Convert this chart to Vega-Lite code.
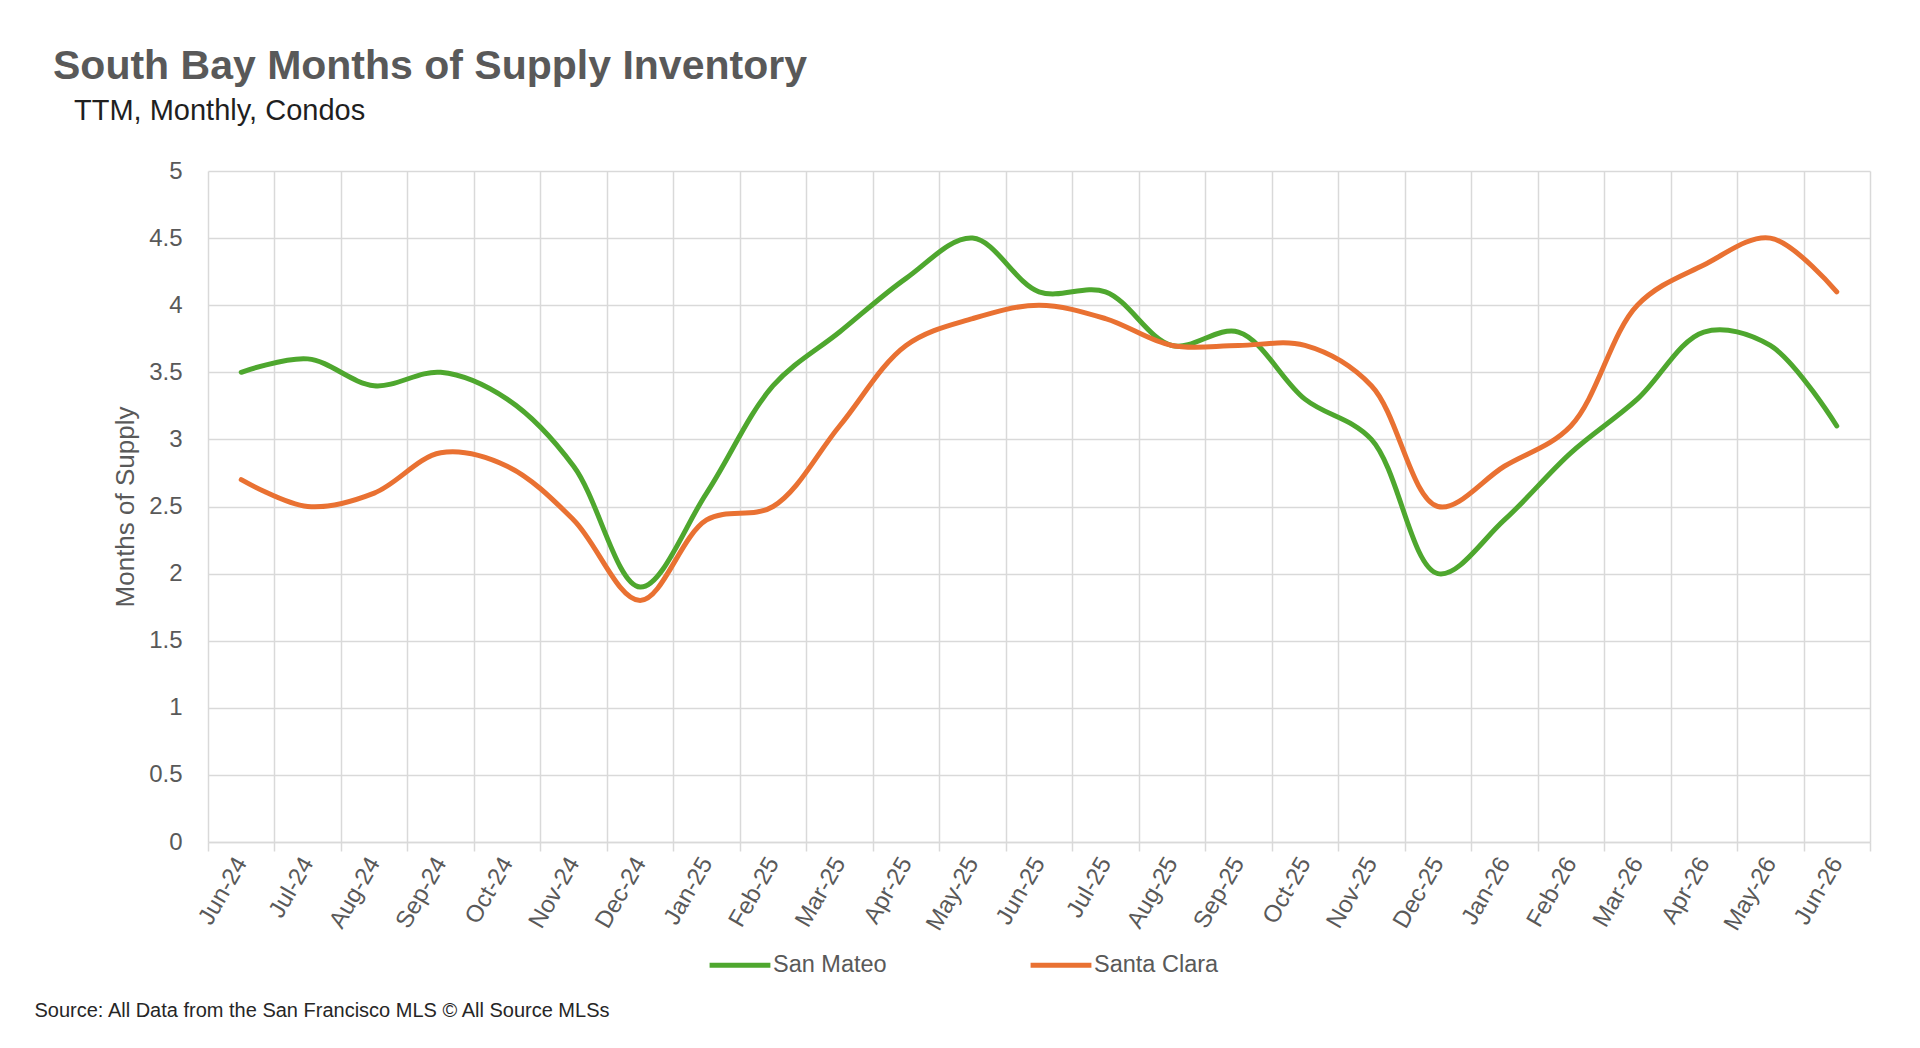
{
  "$schema": "https://vega.github.io/schema/vega-lite/v6.json",
  "description": "South Bay Months of Supply Inventory, TTM, Monthly, Condos",
  "width": 1662,
  "height": 671,
  "autosize": "none",
  "padding": {"left": 208, "top": 171, "right": 50, "bottom": 206},
  "background": "white",
  "title": {
    "text": "South Bay Months of Supply Inventory",
    "subtitle": "\u2800TTM, Monthly, Condos",
    "anchor": "start",
    "frame": "group",
    "dx": -155,
    "offset": 32,
    "font": "Liberation Sans",
    "fontSize": 41,
    "fontWeight": "bold",
    "color": "#595959",
    "subtitleFont": "Liberation Sans",
    "subtitleFontSize": 29,
    "subtitleColor": "#1F1F1F",
    "subtitlePadding": 9
  },
  "config": {
    "font": "Liberation Sans",
    "view": {"stroke": null},
    "axis": {
      "gridColor": "#D9D9D9",
      "gridWidth": 1.5,
      "labelColor": "#595959",
      "titleColor": "#595959",
      "labelFont": "Liberation Sans",
      "titleFont": "Liberation Sans"
    }
  },
  "data": {
    "values": [
      {"month": "Jun-24", "county": "San Mateo", "value": 3.5},
      {"month": "Jul-24", "county": "San Mateo", "value": 3.6},
      {"month": "Aug-24", "county": "San Mateo", "value": 3.4},
      {"month": "Sep-24", "county": "San Mateo", "value": 3.5},
      {"month": "Oct-24", "county": "San Mateo", "value": 3.3},
      {"month": "Nov-24", "county": "San Mateo", "value": 2.8},
      {"month": "Dec-24", "county": "San Mateo", "value": 1.9},
      {"month": "Jan-25", "county": "San Mateo", "value": 2.6},
      {"month": "Feb-25", "county": "San Mateo", "value": 3.4},
      {"month": "Mar-25", "county": "San Mateo", "value": 3.8},
      {"month": "Apr-25", "county": "San Mateo", "value": 4.2},
      {"month": "May-25", "county": "San Mateo", "value": 4.5},
      {"month": "Jun-25", "county": "San Mateo", "value": 4.1},
      {"month": "Jul-25", "county": "San Mateo", "value": 4.1},
      {"month": "Aug-25", "county": "San Mateo", "value": 3.7},
      {"month": "Sep-25", "county": "San Mateo", "value": 3.8},
      {"month": "Oct-25", "county": "San Mateo", "value": 3.3},
      {"month": "Nov-25", "county": "San Mateo", "value": 3.0},
      {"month": "Dec-25", "county": "San Mateo", "value": 2.0},
      {"month": "Jan-26", "county": "San Mateo", "value": 2.4},
      {"month": "Feb-26", "county": "San Mateo", "value": 2.9},
      {"month": "Mar-26", "county": "San Mateo", "value": 3.3},
      {"month": "Apr-26", "county": "San Mateo", "value": 3.8},
      {"month": "May-26", "county": "San Mateo", "value": 3.7},
      {"month": "Jun-26", "county": "San Mateo", "value": 3.1},
      {"month": "Jun-24", "county": "Santa Clara", "value": 2.7},
      {"month": "Jul-24", "county": "Santa Clara", "value": 2.5},
      {"month": "Aug-24", "county": "Santa Clara", "value": 2.6},
      {"month": "Sep-24", "county": "Santa Clara", "value": 2.9},
      {"month": "Oct-24", "county": "Santa Clara", "value": 2.8},
      {"month": "Nov-24", "county": "Santa Clara", "value": 2.4},
      {"month": "Dec-24", "county": "Santa Clara", "value": 1.8},
      {"month": "Jan-25", "county": "Santa Clara", "value": 2.4},
      {"month": "Feb-25", "county": "Santa Clara", "value": 2.5},
      {"month": "Mar-25", "county": "Santa Clara", "value": 3.1},
      {"month": "Apr-25", "county": "Santa Clara", "value": 3.7},
      {"month": "May-25", "county": "Santa Clara", "value": 3.9},
      {"month": "Jun-25", "county": "Santa Clara", "value": 4.0},
      {"month": "Jul-25", "county": "Santa Clara", "value": 3.9},
      {"month": "Aug-25", "county": "Santa Clara", "value": 3.7},
      {"month": "Sep-25", "county": "Santa Clara", "value": 3.7},
      {"month": "Oct-25", "county": "Santa Clara", "value": 3.7},
      {"month": "Nov-25", "county": "Santa Clara", "value": 3.4},
      {"month": "Dec-25", "county": "Santa Clara", "value": 2.5},
      {"month": "Jan-26", "county": "Santa Clara", "value": 2.8},
      {"month": "Feb-26", "county": "Santa Clara", "value": 3.1},
      {"month": "Mar-26", "county": "Santa Clara", "value": 4.0},
      {"month": "Apr-26", "county": "Santa Clara", "value": 4.3},
      {"month": "May-26", "county": "Santa Clara", "value": 4.5},
      {"month": "Jun-26", "county": "Santa Clara", "value": 4.1}
    ]
  },
  "mark": {
    "type": "line",
    "interpolate": "catmull-rom",
    "strokeWidth": 5,
    "strokeCap": "round"
  },
  "encoding": {
    "x": {
      "field": "month",
      "type": "ordinal",
      "sort": null,
      "bandPosition": 0.5,
      "scale": {"type": "band", "paddingInner": 0, "paddingOuter": 0},
      "axis": {
        "tickBand": "extent",
        "grid": true,
        "ticks": true,
        "tickSize": 9,
        "tickColor": "#D9D9D9",
        "tickWidth": 1.5,
        "domain": true,
        "domainColor": "#D9D9D9",
        "domainWidth": 1.5,
        "labelAngle": -60,
        "labelFontSize": 24,
        "labelPadding": 8,
        "title": "Source: All Data from the San Francisco MLS \u00a9 All Source MLSs",
        "titleAnchor": "start",
        "titleAlign": "left",
        "titleBaseline": "middle",
        "titleX": -174,
        "titleY": 168,
        "titleFontSize": 20,
        "titleFontWeight": "normal",
        "titleColor": "#262626"
      }
    },
    "y": {
      "field": "value",
      "type": "quantitative",
      "scale": {"domain": [0, 5], "nice": false},
      "axis": {
        "values": [0, 0.5, 1, 1.5, 2, 2.5, 3, 3.5, 4, 4.5, 5],
        "format": "~g",
        "title": "Months of Supply",
        "domain": false,
        "ticks": false,
        "labelPadding": 26,
        "labelFontSize": 24,
        "titleFontSize": 26,
        "titleFontWeight": "normal",
        "titlePadding": 10
      }
    },
    "color": {
      "field": "county",
      "type": "nominal",
      "scale": {
        "domain": ["San Mateo", "Santa Clara"],
        "range": ["#4EA72E", "#E97132"]
      },
      "legend": {
        "title": null,
        "orient": "none",
        "legendX": 499,
        "legendY": 761,
        "direction": "horizontal",
        "symbolType": "stroke",
        "symbolSize": 3700,
        "symbolStrokeWidth": 5,
        "labelFontSize": 23.5,
        "labelColor": "#595959",
        "labelOffset": 0,
        "columnPadding": 133
      }
    }
  }
}
